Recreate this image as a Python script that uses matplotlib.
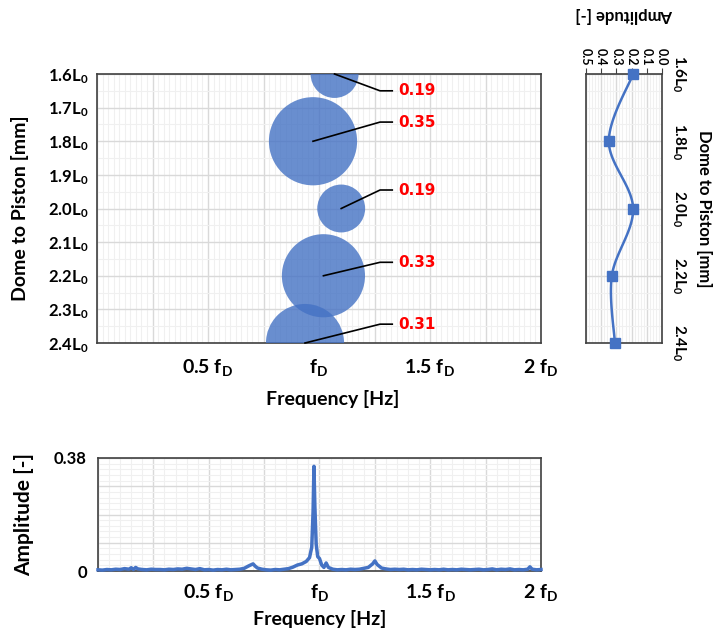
import numpy as np
import matplotlib
matplotlib.use('Agg')
import matplotlib.pyplot as plt
from matplotlib.ticker import MultipleLocator, FixedLocator, FuncFormatter

# font setup
plt.rcParams['font.family'] = ['Lato', 'DejaVu Sans']
plt.rcParams['font.weight'] = 'bold'
plt.rcParams['mathtext.fontset'] = 'custom'
plt.rcParams['mathtext.rm'] = 'Lato:bold'
plt.rcParams['mathtext.default'] = 'rm'

# data
positions = [1.6, 1.8, 2.0, 2.2, 2.4]              # dome to piston, x L0
peak_freq = [1.07, 0.973, 1.10, 1.02, 0.937]       # x fD
peak_amp = [0.19, 0.35, 0.19, 0.33, 0.31]
label_y = [1.65, 1.743, 1.945, 2.16, 2.344]

pos_ticks = [1.6, 1.7, 1.8, 1.9, 2.0, 2.1, 2.2, 2.3, 2.4]
pos_labels = ['1.6L$_0$', '1.7L$_0$', '1.8L$_0$', '1.9L$_0$', '2.0L$_0$',
              '2.1L$_0$', '2.2L$_0$', '2.3L$_0$', '2.4L$_0$']
side_ticks = [1.6, 1.8, 2.0, 2.2, 2.4]
side_labels = ['1.6L$_0$', '1.8L$_0$', '2.0L$_0$', '2.2L$_0$', '2.4L$_0$']
freq_grid = [0.0, 0.25, 0.5, 0.75, 1.0, 1.25, 1.5, 1.75, 2.0]
freq_labels = {0.5: '0.5 f$_D$', 1.0: 'f$_D$', 1.5: '1.5 f$_D$', 2.0: '2 f$_D$'}

# spectrum
spec_f = [0.00, 0.02, 0.04, 0.06, 0.08, 0.10, 0.12, 0.14, 0.15, 0.16, 0.17, 0.18,
          0.20, 0.22, 0.24, 0.26, 0.28, 0.30, 0.32, 0.34, 0.36, 0.38, 0.40, 0.42,
          0.44, 0.46, 0.48, 0.50, 0.52, 0.54, 0.56, 0.58, 0.60, 0.62, 0.64, 0.66,
          0.68, 0.70, 0.71, 0.72, 0.74, 0.76, 0.78, 0.80, 0.82, 0.84, 0.86, 0.88,
          0.90, 0.92, 0.94, 0.955, 0.965, 0.971, 0.975, 0.979, 0.985, 0.992, 1.00,
          1.01, 1.02, 1.03, 1.04, 1.06, 1.08, 1.10, 1.12, 1.14, 1.16, 1.18, 1.20,
          1.22, 1.24, 1.25, 1.26, 1.28, 1.30, 1.32, 1.34, 1.36, 1.38, 1.40, 1.42,
          1.44, 1.46, 1.48, 1.50, 1.52, 1.54, 1.56, 1.58, 1.60, 1.62, 1.64, 1.66,
          1.68, 1.70, 1.72, 1.74, 1.76, 1.78, 1.80, 1.82, 1.84, 1.86, 1.88, 1.90,
          1.92, 1.94, 1.95, 1.96, 1.98, 2.00]
spec_a = [0.004, 0.003, 0.005, 0.004, 0.006, 0.005, 0.008, 0.006, 0.011, 0.005, 0.012, 0.007,
          0.005, 0.004, 0.006, 0.005, 0.005, 0.004, 0.006, 0.005, 0.007, 0.006, 0.009, 0.007,
          0.005, 0.008, 0.004, 0.005, 0.003, 0.005, 0.004, 0.006, 0.004, 0.005, 0.006, 0.009,
          0.017, 0.024, 0.016, 0.010, 0.006, 0.004, 0.003, 0.005, 0.004, 0.006, 0.008, 0.013,
          0.020, 0.024, 0.032, 0.045, 0.080, 0.200, 0.352, 0.220, 0.090, 0.048, 0.042,
          0.020, 0.012, 0.027, 0.012, 0.006, 0.004, 0.005, 0.004, 0.006, 0.005, 0.006, 0.009,
          0.012, 0.024, 0.034, 0.022, 0.010, 0.007, 0.005, 0.006, 0.005, 0.006, 0.004, 0.005,
          0.004, 0.006, 0.005, 0.004, 0.005, 0.004, 0.006, 0.004, 0.005, 0.004, 0.006, 0.005,
          0.004, 0.005, 0.006, 0.004, 0.005, 0.007, 0.004, 0.006, 0.005, 0.007, 0.004, 0.005,
          0.004, 0.006, 0.014, 0.006, 0.004, 0.005]

blue = '#4472C4'
major_c = '#d9d9d9'
minor_c = '#f0f0f0'


def smooth(xs, ys, n=24):
    # excel-like smoothed line (catmull-rom)
    px = np.concatenate([[xs[0]], xs, [xs[-1]]])
    py = np.concatenate([[ys[0]], ys, [ys[-1]]])
    outx, outy = [], []
    t = np.linspace(0, 1, n)
    for i in range(1, len(px) - 2):
        for p, out in ((px, outx), (py, outy)):
            p0, p1, p2, p3 = p[i - 1], p[i], p[i + 1], p[i + 2]
            out.extend(0.5 * ((2 * p1) + (-p0 + p2) * t + (2 * p0 - 5 * p1 + 4 * p2 - p3) * t ** 2
                              + (-p0 + 3 * p1 - 3 * p2 + p3) * t ** 3))
    return outx, outy


def freq_fmt(v, pos):
    return freq_labels.get(round(v, 2), '')


def style_grid(ax):
    ax.grid(True, which='major', color=major_c, lw=1.0, zorder=0)
    ax.grid(True, which='minor', color=minor_c, lw=0.8, zorder=0)
    ax.set_axisbelow(True)
    for s in ax.spines.values():
        s.set_color('#404040')
        s.set_linewidth(1.2)


fig = plt.figure(figsize=(7.13, 6.34), dpi=100)

# main bubble chart
ax = fig.add_axes([97 / 713, 1 - 343 / 634, 444 / 713, 269 / 634])
ax.set_xlim(0, 2)
ax.set_ylim(2.4, 1.6)
sizes = [(2 * 126 * a * 0.72) ** 2 for a in peak_amp]
ax.scatter(peak_freq, positions, s=sizes, color=blue, alpha=0.8, edgecolors='none', zorder=3)
for f, p, a, ly in zip(peak_freq, positions, peak_amp, label_y):
    ax.plot([f, 1.275, 1.33], [p, ly, ly], color='black', lw=1.2, zorder=4, clip_on=False)
    ax.text(1.356, ly, f'{a:.2f}', color='red', fontsize=11, fontweight='bold',
            family='DejaVu Sans', va='center', ha='left', zorder=5)
ax.xaxis.set_major_locator(FixedLocator(freq_grid))
ax.xaxis.set_minor_locator(MultipleLocator(0.025))
ax.xaxis.set_major_formatter(FuncFormatter(freq_fmt))
ax.yaxis.set_major_locator(FixedLocator(pos_ticks))
ax.yaxis.set_minor_locator(MultipleLocator(0.05))
ax.set_yticklabels(pos_labels)
ax.tick_params(which='both', length=0)
ax.tick_params(axis='x', labelsize=14, pad=10)
ax.tick_params(axis='y', labelsize=12, pad=6)
style_grid(ax)
ax.set_xlabel('Frequency [Hz]', fontsize=14, fontweight='bold', labelpad=9)
ax.xaxis.label.set_x(0.53)
ax.set_ylabel('Dome to Piston [mm]', fontsize=14, fontweight='bold', labelpad=14)

# side panel: amplitude vs position
axs = fig.add_axes([586 / 713, 1 - 343 / 634, 76 / 713, 269 / 634])
sx, sy = smooth(peak_amp, positions)
axs.plot(sx, sy, color=blue, lw=1.8, zorder=3)
axs.plot(peak_amp, positions, ls='none', marker='s', ms=7, color=blue, zorder=4, clip_on=False)
axs.set_xlim(0.5, 0.0)
axs.set_ylim(2.4, 1.6)
axs.xaxis.set_major_locator(FixedLocator([0.5, 0.4, 0.3, 0.2, 0.1, 0.0]))
axs.xaxis.set_minor_locator(MultipleLocator(0.02))
axs.yaxis.set_major_locator(FixedLocator(side_ticks))
axs.yaxis.set_minor_locator(MultipleLocator(0.05))
axs.set_yticklabels(side_labels)
axs.xaxis.tick_top()
axs.yaxis.tick_right()
axs.set_xticklabels(['0.5', '0.4', '0.3', '0.2', '0.1', '0.0'], rotation=-90)
axs.tick_params(axis='x', which='major', length=4, labelsize=9, pad=2, color='#404040')
axs.tick_params(axis='x', which='minor', length=0)
axs.tick_params(axis='y', which='both', length=0, labelsize=11, pad=6)
for lab in axs.get_yticklabels():
    lab.set_rotation(-90)
    lab.set_va('center')
style_grid(axs)
axs.text(0.5, 1.22, 'Amplitude [-]', transform=axs.transAxes, rotation=180,
         ha='center', va='center', fontsize=12, fontweight='bold')
axs.yaxis.set_label_position('right')
axs.set_ylabel('Dome to Piston [mm]', rotation=-90, fontsize=12, fontweight='bold',
               va='center', ha='center')
axs.yaxis.set_label_coords(1.55, 0.5)

# bottom spectrum
axb = fig.add_axes([98 / 713, 1 - 571 / 634, 443 / 713, 113 / 634])
axb.plot(spec_f, spec_a, color=blue, lw=2.5, zorder=3, clip_on=False)
axb.set_xlim(0, 2)
axb.set_ylim(0, 0.38)
axb.xaxis.set_major_locator(FixedLocator(freq_grid))
axb.xaxis.set_minor_locator(MultipleLocator(0.05))
axb.xaxis.set_major_formatter(FuncFormatter(freq_fmt))
axb.yaxis.set_major_locator(FixedLocator([0, 0.095, 0.19, 0.285, 0.38]))
axb.yaxis.set_minor_locator(MultipleLocator(0.019))
axb.set_yticklabels(['0', '', '', '', '0.38'])
axb.tick_params(which='both', length=0)
axb.tick_params(axis='x', labelsize=14, pad=8)
axb.tick_params(axis='y', labelsize=12, pad=8)
style_grid(axb)
axb.set_xlabel('Frequency [Hz]', fontsize=14, fontweight='bold', labelpad=5)
axb.set_ylabel('Amplitude [-]', fontsize=15, fontweight='bold', labelpad=14)

fig.savefig('out.png', dpi=100)
